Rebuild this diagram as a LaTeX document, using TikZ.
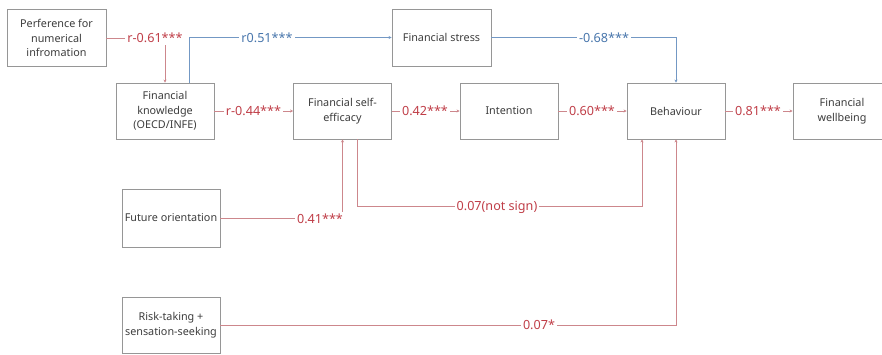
\documentclass[tikz,border=0pt]{standalone}
\usepackage{fontspec}
\setmainfont{Noto Sans}
\usetikzlibrary{arrows.meta}
\definecolor{redtext}{RGB}{192,62,72}
\definecolor{redline}{RGB}{205,135,140}
\definecolor{bluetext}{RGB}{72,118,172}
\definecolor{blueline}{RGB}{115,152,196}
\definecolor{boxline}{RGB}{150,150,150}
\definecolor{boxtext}{RGB}{60,60,60}
\tikzset{
  var/.style={draw=boxline, line width=0.9pt, rectangle, minimum width=98pt,
    minimum height=56pt, align=center, text=boxtext, inner sep=2pt,
    font=\fontsize{10.8}{14.5}\selectfont},
  redpath/.style={draw=redline, line width=0.9pt, -{Stealth[length=3pt,width=3pt]}},
  bluepath/.style={draw=blueline, line width=0.9pt, -{Stealth[length=3pt,width=3pt]}},
  redlab/.style={fill=white, inner sep=2pt, text=redtext, font=\fontsize{12.6}{14}\selectfont},
  bluelab/.style={fill=white, inner sep=2pt, text=bluetext, font=\fontsize{12.6}{14}\selectfont}
}
\begin{document}
\begin{tikzpicture}[x=1pt, y=-1pt]
\useasboundingbox (0,0) rectangle (882,354);

% variables
\node[var, minimum width=99pt, minimum height=57pt] (pref) at (56.5,38) {Perference for\\numerical\\infromation};
\node[var] (know) at (165,111) {Financial\\knowledge\\(OECD/INFE)};
\node[var, minimum width=99pt, minimum height=57pt] (stress) at (441.5,37.5) {Financial stress};
\node[var] (self) at (342.5,111) {Financial self-\\efficacy};
\node[var] (intent) at (509,111) {Intention};
\node[var] (behav) at (676,111) {Behaviour};
\node[var] (well) at (842,111) {Financial\\wellbeing};
\node[var, minimum height=58pt] (future) at (171,218) {Future orientation};
\node[var] (risk) at (171,325) {Risk-taking +\\sensation-seeking};

% corner points of the routed paths
\coordinate (k1) at (357,206);
\coordinate (k2) at (642,206);

% paths
\draw[redpath] (pref.east) -| (know.north);
\draw[bluepath] ([xshift=24pt]know.north) |- (stress.west);
\draw[bluepath] (stress.east) -| (behav.north);
\draw[redpath] (know.east) -- (self.west);
\draw[redpath] (self.east) -- (intent.west);
\draw[redpath] (intent.east) -- (behav.west);
\draw[redpath] (behav.east) -- (well.west);
\draw[redpath] (future.east) -| (self.south);
\draw[redpath] ([xshift=14.5pt]self.south) -- (k1) -- (k2) -- ([xshift=-34pt]behav.south);
\draw[redpath] (risk.east) -| (behav.south);

% coefficients
\node[redlab] (l1) at (155,38) {r-0.61***};
\node[bluelab] (l2) at (267,38) {r0.51***};
\node[bluelab] (l3) at (604,38) {-0.68***};
\node[redlab] (l4) at (253.5,111) {r-0.44***};
\node[redlab] (l5) at (425,111) {0.42***};
\node[redlab] (l6) at (592,111) {0.60***};
\node[redlab] (l7) at (758,111) {0.81***};
\node[redlab] (l8) at (320,219) {0.41***};
\node[redlab] (l9) at (497,207) {0.07(not sign)};
\node[redlab] (l10) at (539,325) {0.07*};
\end{tikzpicture}
\end{document}
